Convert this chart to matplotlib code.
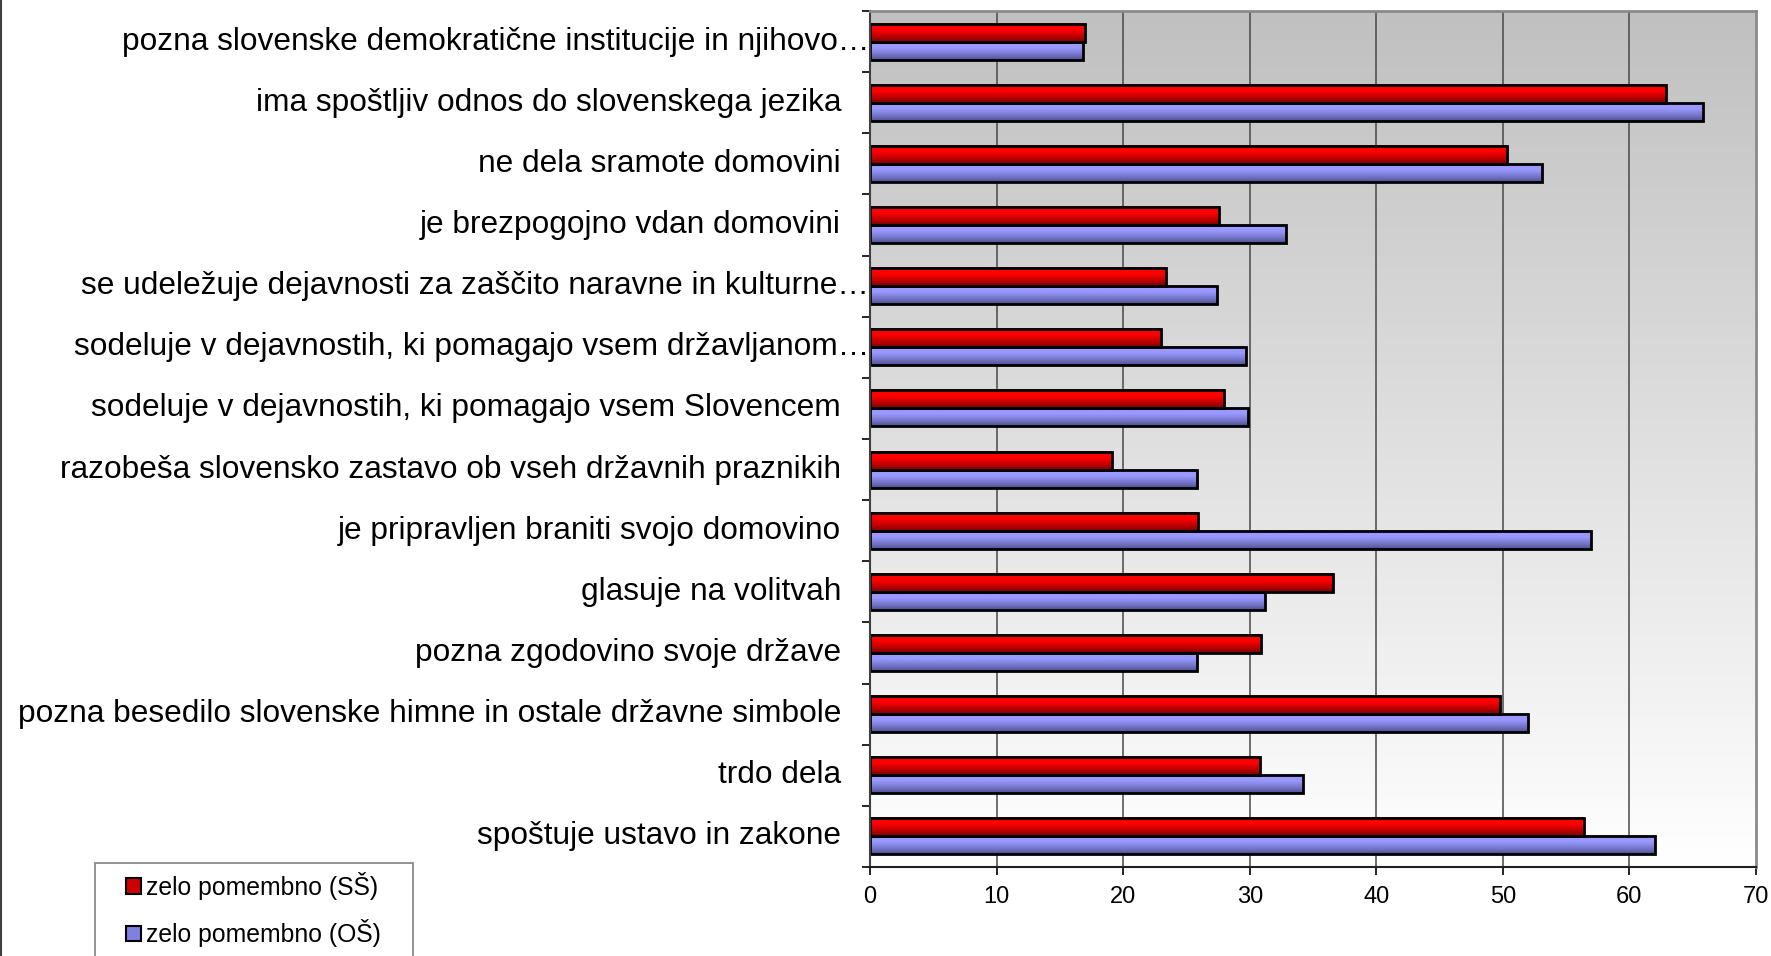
import numpy as np
import matplotlib
matplotlib.use("Agg")
import matplotlib.pyplot as plt
from matplotlib.patches import Rectangle, Patch
from matplotlib.lines import Line2D
from matplotlib.transforms import offset_copy

plt.rcParams['font.family'] = ['Liberation Sans', 'DejaVu Sans']

categories = [
    "pozna slovenske demokratične institucije in njihovo…",
    "ima spoštljiv odnos do slovenskega jezika",
    "ne dela sramote domovini",
    "je brezpogojno vdan domovini",
    "se udeležuje dejavnosti za zaščito naravne in kulturne…",
    "sodeluje v dejavnostih, ki pomagajo vsem državljanom…",
    "sodeluje v dejavnostih, ki pomagajo vsem Slovencem",
    "razobeša slovensko zastavo ob vseh državnih praznikih",
    "je pripravljen braniti svojo domovino",
    "glasuje na volitvah",
    "pozna zgodovino svoje države",
    "pozna besedilo slovenske himne in ostale državne simbole",
    "trdo dela",
    "spoštuje ustavo in zakone",
]
ss_values = [17.0, 62.9, 50.3, 27.6, 23.4, 23.0, 28.0, 19.1, 25.9, 36.6, 30.9, 49.8, 30.8, 56.4]
os_values = [16.8, 65.8, 53.1, 32.9, 27.4, 29.7, 29.9, 25.8, 57.0, 31.2, 25.8, 52.0, 34.2, 62.0]
series_names = ["zelo pomembno (SŠ)", "zelo pomembno (OŠ)"]
x_ticks = [0, 10, 20, 30, 40, 50, 60, 70]

W, H = 1771, 956
fig = plt.figure(figsize=(W / 100, H / 100), dpi=100)
ax = fig.add_axes([870 / W, 1 - 867 / H, (1756 - 870) / W, (867 - 11) / H])

n = len(categories)
y = np.arange(n)[::-1].astype(float)
bh = 0.295

red_top, red_bot = np.array([1.0, 0.0, 0.0]), np.array([0.45, 0.0, 0.0])
blue_top, blue_bot = np.array([0.6, 0.6, 1.0]), np.array([0.30, 0.30, 0.55])


def gradient(top, bot, steps=64):
    t = np.linspace(0, 1, steps)  # 0 = bottom, 1 = top
    k = np.clip(t / 0.65, 0, 1) ** 0.8
    cols = bot[None, :] * (1 - k[:, None]) + top[None, :] * k[:, None]
    return cols[:, None, :]


# background gradient of the plot area
bg = np.linspace(1.0, 0.753, 256)[:, None, None] * np.ones((1, 1, 3))
ax.imshow(bg, extent=(0, 1, 0, 1), transform=ax.transAxes, origin='lower',
          aspect='auto', zorder=0)

bars_ss = ax.barh(y + bh / 2, ss_values, height=bh, facecolor='none',
                  edgecolor='black', linewidth=2.0, zorder=4)
bars_os = ax.barh(y - bh / 2, os_values, height=bh, facecolor='none',
                  edgecolor='black', linewidth=2.0, zorder=4)

for bars, top, bot in [(bars_ss, red_top, red_bot), (bars_os, blue_top, blue_bot)]:
    g = gradient(top, bot)
    for p in bars:
        x0, y0 = p.get_x(), p.get_y()
        ax.imshow(g, extent=(x0, x0 + p.get_width(), y0, y0 + p.get_height()),
                  origin='lower', aspect='auto', zorder=3)

ax.set_xlim(0, 70)
ax.set_ylim(-0.5, n - 0.5)
ax.set_aspect('auto')

ax.set_xticks(x_ticks)
ax.set_xticklabels([str(v) for v in x_ticks], fontsize=17)
ax.tick_params(axis='x', direction='out', length=6, width=1.2, pad=8, colors='black')
ax.set_yticks(np.arange(n + 1) - 0.5)
ax.set_yticklabels([])
ax.tick_params(axis='y', direction='out', length=6, width=1.2)

for v in x_ticks[1:-1]:
    ax.axvline(v, color='#484848', linewidth=1.1, zorder=1)

for s in ['top', 'right']:
    ax.spines[s].set_color('#8a8a8a')
    ax.spines[s].set_linewidth(2)
ax.spines['left'].set_color('#404040')
ax.spines['bottom'].set_color('#202020')
ax.spines['left'].set_linewidth(1.5)
ax.spines['bottom'].set_linewidth(1.5)
for s in ax.spines.values():
    s.set_zorder(5)

# category labels
base = ax.get_yaxis_transform()
for yi, lab in zip(y, categories):
    off = -1 if lab.endswith('…') else -29
    tr = offset_copy(base, fig=fig, x=off, y=0, units='dots')
    ax.text(0, yi, lab, transform=tr, ha='right', va='center', fontsize=22.8,
            color='black', clip_on=False)

# legend frame
fig.patches.append(Rectangle((95 / W, -0.05), (413 - 95) / W, 1 - 863 / H + 0.05,
                             transform=fig.transFigure, facecolor='white',
                             edgecolor='#808080', linewidth=1.2, zorder=1))
handles = [Patch(facecolor='#cc0000', edgecolor='black', linewidth=1.5),
           Patch(facecolor='#8080e0', edgecolor='black', linewidth=1.5)]
fig.legend(handles, series_names, loc='upper left',
           bbox_to_anchor=(126 / W, 1 - 872 / H), frameon=False, fontsize=17.8,
           borderpad=0, borderaxespad=0, handlelength=0.6, handleheight=0.6,
           handletextpad=0.22, labelspacing=0.78)

# chart outer border on the left
fig.add_artist(Line2D([1 / W, 1 / W], [0, 1], transform=fig.transFigure,
                      color='#404040', linewidth=1.5))

fig.savefig("out.png", dpi=100)
